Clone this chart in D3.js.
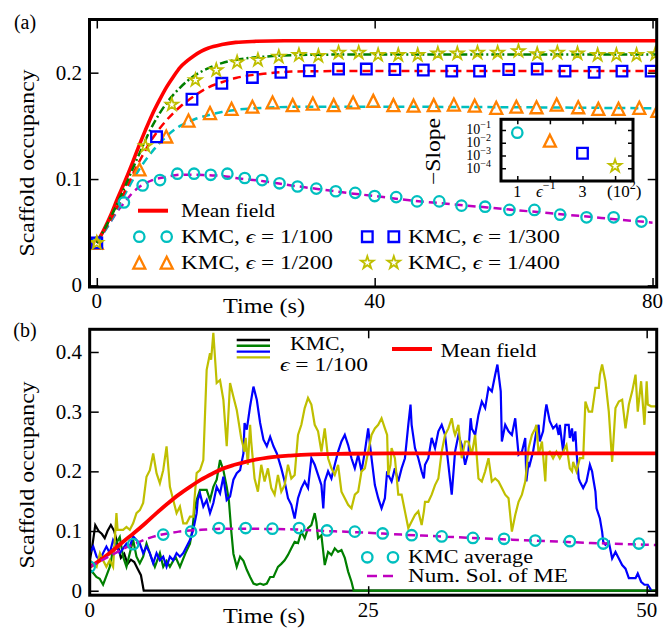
<!DOCTYPE html>
<html><head><meta charset="utf-8">
<script src="https://cdn.jsdelivr.net/npm/d3@7"></script>
</head><body style="margin:0;background:#fff">
<svg id="c" width="671" height="628" font-family="Liberation Serif"></svg>
<script>
// ---------------- DATA ----------------
// Panel (a): KMC markers, [time (s), occupancy]
const kmc100 = [[0,0.040],[3.9,0.078],[6.6,0.094],[9.1,0.099],[11.6,0.105],[14.0,0.105],[16.4,0.104],[18.8,0.105],[21.3,0.101],[23.8,0.099],[26.3,0.096],[28.9,0.093],[31.6,0.091],[34.4,0.0885],[37.2,0.087],[40.0,0.084],[43.1,0.083],[46.1,0.079],[49.3,0.079],[52.5,0.075],[55.9,0.074],[59.4,0.071],[63.0,0.071],[66.7,0.0665],[70.5,0.064],[74.4,0.064],[78.4,0.060]];
const kmc200 = [[0,0.040],[6.15,0.109],[10.0,0.140],[13.2,0.155],[16.3,0.162],[19.4,0.166],[22.4,0.168],[25.3,0.172],[28.2,0.1695],[31.1,0.171],[34.1,0.1695],[36.9,0.172],[39.8,0.1735],[42.7,0.1695],[45.6,0.169],[48.5,0.1695],[51.4,0.170],[54.4,0.169],[57.5,0.167],[60.4,0.168],[63.3,0.1675],[66.2,0.170],[69.3,0.1675],[72.2,0.166],[75.1,0.166],[78.1,0.167],[80.7,0.164]];
const kmc300 = [[0,0.040],[8.6,0.1397],[13.7,0.175],[18.0,0.190],[22.4,0.1955],[26.5,0.2003],[30.6,0.2018],[34.8,0.2034],[38.8,0.2034],[42.9,0.203],[47.0,0.2025],[51.1,0.2015],[55.1,0.2015],[59.3,0.203],[63.4,0.2034],[67.4,0.2015],[71.6,0.2003],[75.6,0.2015],[79.8,0.2015]];
const kmc400 = [[0,0.040],[7.0,0.131],[10.8,0.170],[14.2,0.193],[17.2,0.2024],[20.2,0.2097],[23.2,0.2119],[26.2,0.215],[29.1,0.2166],[31.9,0.2157],[34.8,0.2188],[37.7,0.2188],[40.5,0.2166],[43.4,0.2166],[46.2,0.2166],[49.1,0.218],[51.9,0.218],[54.8,0.2188],[57.7,0.2188],[60.7,0.2203],[63.4,0.2175],[66.3,0.2188],[69.2,0.218],[72.1,0.2166],[74.8,0.2166],[77.7,0.2166],[80.4,0.2175]];
// Numerical solutions of the master equation (dashed curves)
const me100 = [[0,0.040],[1,0.050],[2,0.060],[3,0.070],[4,0.078],[5,0.086],[6,0.092],[7,0.096],[8,0.099],[10,0.102],[12,0.104],[14,0.104],[16,0.1035],[18,0.103],[20,0.101],[24,0.098],[28,0.094],[32,0.0905],[36,0.087],[40,0.084],[45,0.080],[50,0.077],[55,0.074],[60,0.071],[65,0.068],[70,0.065],[75,0.062],[80,0.059]];
const me200 = [[0,0.040],[2,0.060],[4,0.085],[6,0.108],[8,0.126],[10,0.140],[12,0.150],[14,0.156],[16,0.160],[18,0.163],[20,0.165],[24,0.167],[30,0.168],[40,0.168],[60,0.1675],[80.6,0.1665]];
const me300 = [[0,0.040],[2,0.062],[4,0.088],[6,0.115],[8,0.138],[10,0.155],[12,0.168],[14,0.178],[16,0.186],[18,0.191],[20,0.195],[24,0.199],[28,0.201],[35,0.2015],[80.6,0.2015]];
const me400 = [[0,0.040],[2,0.064],[4,0.092],[6,0.122],[8,0.150],[10,0.171],[12,0.186],[14,0.197],[16,0.204],[18,0.209],[20,0.212],[24,0.215],[28,0.2165],[35,0.217],[80.6,0.217]];
const meanField = [[0,0.040],[1,0.052],[2,0.066],[3,0.082],[4,0.097],[5,0.113],[6,0.130],[7,0.146],[8,0.161],[9,0.174],[10,0.186],[11,0.196],[12,0.205],[13,0.211],[14,0.216],[15,0.220],[16,0.223],[18,0.2265],[20,0.2285],[23,0.2295],[27,0.230],[35,0.230],[81,0.230]];
// Inset: epsilon^-1 (x 100) vs -Slope
const insetEps = [1,2,3,4];
const insetSlope = [0.062,0.0145,0.0015,0.00015];
const insetShapes = ["circle","triangle","square","star"];
// Panel (b): individual KMC trajectories, eps = 1/100
const trajBlack = [[0,0.05],[0.2,0.07],[0.5,0.11],[0.8,0.10],[1.1,0.095],[1.35,0.088],[1.6,0.10],[1.9,0.11],[2.2,0.10],[2.5,0.078],[2.8,0.055],[3.1,0.062],[3.4,0.045],[3.7,0.052],[4.0,0.048],[4.3,0.037],[4.6,0.026],[4.85,0],[50.9,0]];
const trajGreen = [[0,0.035],[0.3,0.03],[0.6,0.023],[0.9,0.02],[1.2,0.01],[1.5,0.025],[1.8,0.04],[2.1,0.068],[2.4,0.08],[2.7,0.09],[3.0,0.057],[3.3,0.04],[3.6,0.063],[3.9,0.085],[4.2,0.057],[4.5,0.046],[4.8,0.057],[5.1,0.079],[5.5,0.057],[5.85,0.04],[6.3,0.063],[6.6,0.04],[6.9,0.05],[7.2,0.04],[7.7,0.057],[8.1,0.04],[8.6,0.063],[9.0,0.079],[9.2,0.10],[9.4,0.135],[9.6,0.152],[9.9,0.169],[10.5,0.169],[10.8,0.152],[11.1,0.174],[11.4,0.186],[11.7,0.219],[12.0,0.202],[12.3,0.174],[12.5,0.15],[12.7,0.102],[12.9,0.062],[13.2,0.04],[13.5,0.057],[13.8,0.05],[14.1,0.035],[14.4,0.023],[14.7,0.012],[15.0,0.01],[15.3,0.012],[15.6,0.01],[15.9,0.012],[16.2,0.023],[16.5,0.023],[16.9,0.04],[17.2,0.045],[17.5,0.051],[17.8,0.06],[18.1,0.071],[18.4,0.082],[18.7,0.08],[19.0,0.099],[19.3,0.088],[19.6,0.105],[19.9,0.11],[20.2,0.13],[20.35,0.115],[20.5,0.088],[20.8,0.093],[21.1,0.043],[21.4,0.065],[21.7,0.06],[22.0,0.071],[22.3,0.065],[22.6,0.068],[22.9,0.055],[23.2,0.032],[23.5,0.015],[23.7,0],[50.9,0]];
const trajBlue = [[0,0.063],[0.32,0.074],[0.62,0.057],[0.92,0.051],[1.2,0.063],[1.5,0.074],[1.8,0.063],[2.1,0.085],[2.4,0.074],[2.7,0.063],[3.3,0.079],[3.6,0.074],[3.9,0.091],[4.2,0.085],[4.5,0.079],[4.8,0.063],[5.1,0.074],[5.4,0.063],[5.7,0.046],[6.0,0.063],[6.3,0.051],[6.6,0.057],[6.9,0.040],[7.2,0.057],[7.5,0.051],[7.8,0.063],[8.1,0.057],[8.4,0.063],[8.7,0.074],[9.0,0.085],[9.3,0.102],[9.6,0.130],[9.7,0.152],[9.9,0.163],[10.2,0.141],[10.5,0.152],[10.8,0.130],[11.1,0.147],[11.4,0.174],[11.7,0.163],[12.0,0.191],[12.3,0.152],[12.6,0.158],[12.9,0.186],[13.2,0.197],[13.5,0.202],[13.8,0.230],[13.9,0.281],[14.1,0.270],[14.4,0.309],[14.7,0.342],[15.0,0.320],[15.3,0.281],[15.6,0.253],[15.9,0.242],[16.2,0.258],[16.5,0.242],[16.8,0.230],[17.2,0.205],[17.5,0.183],[17.8,0.155],[18.1,0.144],[18.4,0.121],[18.7,0.155],[19.0,0.172],[19.3,0.183],[19.6,0.172],[19.9,0.222],[20.2,0.211],[20.5,0.194],[20.8,0.177],[20.97,0.138],[21.1,0.183],[21.4,0.200],[21.7,0.188],[22.0,0.211],[22.3,0.233],[22.6,0.250],[22.9,0.261],[23.2,0.244],[23.5,0.222],[23.8,0.205],[24.1,0.228],[24.4,0.200],[24.7,0.233],[25.0,0.272],[25.3,0.222],[25.6,0.177],[25.9,0.155],[26.2,0.138],[26.5,0.155],[26.7,0.200],[26.8,0.194],[27.1,0.183],[27.4,0.205],[27.7,0.183],[28.0,0.205],[28.3,0.222],[28.6,0.278],[28.8,0.312],[28.9,0.278],[29.2,0.239],[29.5,0.222],[29.8,0.200],[30.0,0.188],[30.1,0.211],[30.4,0.222],[30.7,0.256],[31.0,0.239],[31.3,0.267],[31.6,0.278],[31.9,0.261],[32.2,0.211],[32.5,0.161],[32.8,0.233],[33.1,0.261],[33.4,0.244],[33.7,0.211],[34.0,0.233],[34.2,0.289],[34.3,0.272],[34.6,0.261],[34.9,0.295],[35.2,0.317],[35.5,0.306],[35.8,0.340],[36.1,0.334],[36.4,0.362],[36.6,0.379],[36.9,0.334],[37.0,0.250],[37.3,0.278],[37.6,0.267],[37.9,0.261],[38.2,0.289],[38.5,0.228],[38.8,0.233],[39.1,0.256],[39.2,0.183],[39.4,0.216],[39.5,0.211],[39.8,0.233],[40.1,0.267],[40.3,0.278],[40.4,0.250],[40.7,0.267],[40.9,0.300],[41.0,0.312],[41.3,0.284],[41.6,0.272],[41.9,0.278],[42.1,0.261],[42.2,0.278],[42.5,0.233],[42.7,0.278],[43.0,0.278],[43.1,0.256],[43.3,0.272],[43.4,0.250],[43.6,0.267],[43.7,0.233],[43.9,0.188],[44.0,0.183],[44.3,0.172],[44.6,0.183],[44.9,0.211],[45.1,0.200],[45.2,0.188],[45.4,0.166],[45.5,0.138],[45.8,0.121],[46.0,0.099],[46.1,0.082],[46.3,0.077],[46.6,0.082],[46.9,0.054],[47.2,0.065],[47.5,0.054],[47.8,0.043],[48.1,0.037],[48.4,0.021],[48.7,0.021],[49.0,0.021],[49.2,0.029],[49.5,0.015],[49.8,0.010],[50.1,0.010],[50.4,0.001]];
const trajYellow = [[0,0.051],[0.32,0.046],[0.62,0.040],[0.92,0.063],[1.2,0.051],[1.5,0.040],[1.8,0.051],[2.1,0.040],[2.4,0.130],[2.5,0.102],[2.7,0.102],[3.0,0.102],[3.3,0.107],[3.6,0.102],[3.9,0.113],[4.2,0.130],[4.5,0.135],[4.8,0.147],[5.1,0.191],[5.4,0.202],[5.7,0.230],[6.0,0.197],[6.3,0.180],[6.6,0.202],[6.9,0.242],[7.2,0.174],[7.5,0.152],[7.8,0.130],[8.1,0.141],[8.4,0.113],[8.7,0.113],[9.0,0.124],[9.3,0.124],[9.4,0.152],[9.6,0.197],[9.9,0.202],[10.2,0.219],[10.5,0.370],[10.8,0.398],[10.9,0.387],[11.1,0.432],[11.4,0.348],[11.7,0.353],[12.0,0.320],[12.3,0.242],[12.6,0.348],[12.9,0.325],[13.2,0.303],[13.6,0.256],[13.9,0.233],[14.0,0.256],[14.2,0.211],[14.4,0.278],[14.5,0.250],[14.8,0.188],[15.1,0.166],[15.4,0.211],[15.7,0.183],[16.0,0.205],[16.3,0.172],[16.6,0.161],[16.9,0.194],[17.2,0.166],[17.5,0.177],[17.8,0.211],[18.1,0.188],[18.4,0.194],[18.7,0.261],[19.0,0.278],[19.3,0.306],[19.6,0.323],[19.9,0.312],[20.2,0.278],[20.5,0.267],[20.8,0.233],[21.1,0.272],[21.4,0.222],[21.7,0.205],[22.0,0.194],[22.3,0.211],[22.6,0.166],[22.9,0.155],[23.2,0.144],[23.5,0.138],[23.8,0.161],[24.1,0.166],[24.4,0.200],[24.7,0.205],[25.0,0.233],[25.3,0.261],[25.6,0.272],[25.9,0.278],[26.2,0.289],[26.5,0.272],[26.7,0.261],[26.8,0.194],[27.0,0.211],[27.1,0.239],[27.4,0.222],[27.7,0.161],[28.0,0.161],[28.3,0.133],[28.6,0.105],[28.9,0.116],[29.2,0.127],[29.5,0.133],[29.8,0.110],[30.0,0.133],[30.1,0.149],[30.4,0.149],[30.7,0.161],[31.0,0.177],[31.3,0.188],[31.6,0.233],[31.9,0.261],[32.2,0.272],[32.5,0.289],[32.7,0.267],[32.8,0.261],[33.1,0.278],[33.4,0.222],[33.7,0.250],[34.0,0.250],[34.3,0.228],[34.6,0.261],[34.9,0.188],[35.2,0.183],[35.5,0.200],[35.8,0.222],[36.1,0.183],[36.4,0.188],[36.7,0.183],[37.0,0.172],[37.3,0.161],[37.6,0.155],[37.9,0.099],[38.2,0.127],[38.5,0.149],[38.8,0.161],[39.1,0.183],[39.4,0.239],[39.7,0.261],[40.0,0.272],[40.1,0.278],[40.3,0.228],[40.6,0.250],[40.9,0.183],[41.0,0.228],[41.3,0.233],[41.6,0.222],[41.9,0.233],[42.2,0.222],[42.5,0.233],[42.8,0.244],[43.1,0.205],[43.3,0.200],[43.4,0.216],[43.7,0.200],[44.0,0.222],[44.3,0.222],[44.5,0.317],[44.8,0.300],[45.1,0.300],[45.4,0.340],[45.7,0.340],[45.8,0.362],[46.0,0.379],[46.3,0.351],[46.6,0.300],[46.9,0.216],[47.2,0.306],[47.5,0.317],[47.8,0.320],[48.1,0.272],[48.4,0.312],[48.7,0.334],[49.0,0.362],[49.2,0.300],[49.5,0.351],[49.8,0.278],[50.0,0.351],[50.1,0.312],[50.4,0.309],[50.9,0.309]];
// Tick values and labels
const aXTicks = [0,40,80], aYTicks = [0,0.1,0.2];
const bXTicks = [0,25,50], bYTicks = [0,0.1,0.2,0.3,0.4];
const insetYTicks = [1e-1,1e-2,1e-3,1e-4], insetYExp = ["\u22121","\u22122","\u22123","\u22124"];

// ---------------- STYLE ----------------
const FONT = "Liberation Serif";
const C = {red:"#ff0000", cyan:"#00bfbf", mag:"#bf00bf", orange:"#ff8000", blue:"#0000ff", yel:"#bfbf00", green:"#007f00", black:"#000"};
const svg = d3.select("#c");
const fmtY = d => d===0 ? "0" : d3.format(".1f")(d);

function starPath(R){const r=R*0.381966;const p=[];for(let i=0;i<10;i++){const a=-Math.PI/2+i*Math.PI/5;const rr=i%2?r:R;p.push([(rr*Math.cos(a)).toFixed(2),(rr*Math.sin(a)).toFixed(2)]);}return "M"+p.join("L")+"Z";}
const shapePath = {
  circle: "M5.2,0A5.2,5.2 0 1,1 -5.2,0A5.2,5.2 0 1,1 5.2,0Z",
  square: "M-5.3,-5.3H5.3V5.3H-5.3Z",
  triangle: "M0,-6L6,6L-6,6Z",
  star: starPath(6.6)
};
const shapeColor = {circle:C.cyan, triangle:C.orange, square:C.blue, star:C.yel};
function marker(g, px, py, shape){
  g.append("path").attr("d",shapePath[shape]).attr("transform",`translate(${px},${py})`)
   .attr("fill","none").attr("stroke",shapeColor[shape]).attr("stroke-width",shape==="star"?1.8:2.3);
}
function txt(g,x,y,s,size,opt={}){
  const t=g.append("text").attr("x",x).attr("y",y).attr("font-size",size).attr("font-family",FONT).attr("fill","#000");
  if(opt.anchor) t.attr("text-anchor",opt.anchor);
  if(opt.len) t.attr("textLength",opt.len).attr("lengthAdjust","spacingAndGlyphs");
  if(opt.rot) t.attr("transform",`rotate(${opt.rot},${x},${y})`);
  t.text(s); return t;
}
function epsText(g,x,y,pre,post,size,opt={}){
  const t=g.append("text").attr("x",x).attr("y",y).attr("font-size",size).attr("font-family",FONT).attr("fill","#000");
  if(opt.anchor) t.attr("text-anchor",opt.anchor);
  if(opt.len) t.attr("textLength",opt.len).attr("lengthAdjust","spacingAndGlyphs");
  t.append("tspan").text(pre);
  t.append("tspan").attr("font-style","italic").text("\u03f5");
  t.append("tspan").text(post);
  return t;
}
function frameAndTicks(g,x,y,xt,yt,tl){
  const [x0,x1]=x.range(), [y0,y1]=y.range();
  g.append("g").attr("transform",`translate(0,${y0})`).call(d3.axisBottom(x).tickValues(xt).tickSize(-tl).tickFormat(""));
  g.append("g").attr("transform",`translate(0,${y1})`).call(d3.axisTop(x).tickValues(xt).tickSize(-tl).tickFormat(""));
  g.append("g").attr("transform",`translate(${x0},0)`).call(d3.axisLeft(y).tickValues(yt).tickSize(-tl).tickFormat(""));
  g.append("g").attr("transform",`translate(${x1},0)`).call(d3.axisRight(y).tickValues(yt).tickSize(-tl).tickFormat(""));
  g.selectAll(".domain").remove();
  g.selectAll(".tick line").attr("stroke","#000").attr("stroke-width",1.5);
  g.append("rect").attr("x",x0).attr("y",y1).attr("width",x1-x0).attr("height",y0-y1)
   .attr("fill","none").attr("stroke","#000").attr("stroke-width",3);
}

// ---------------- PANEL (a) ----------------
const xa = d3.scaleLinear().domain([-1.05,80.6]).range([89.5,656.7]);
const ya = d3.scaleLinear().domain([-0.0015,0.25]).range([287,19.5]);
svg.append("clipPath").attr("id","clipA").append("rect").attr("x",89.5).attr("y",19.5).attr("width",656.7-89.5).attr("height",287-19.5);
const gA = svg.append("g");
const pA = gA.append("g").attr("clip-path","url(#clipA)");
const lineA = d3.line().x(d=>xa(d[0])).y(d=>ya(d[1])).curve(d3.curveMonotoneX);
pA.append("path").attr("d",lineA(meanField)).attr("fill","none").attr("stroke",C.red).attr("stroke-width",3.6);
pA.append("path").attr("d",lineA(me100)).attr("fill","none").attr("stroke",C.mag).attr("stroke-width",2.5).attr("stroke-dasharray","8,5");
pA.append("path").attr("d",lineA(me200)).attr("fill","none").attr("stroke",C.cyan).attr("stroke-width",2.5).attr("stroke-dasharray","8,5");
pA.append("path").attr("d",lineA(me300)).attr("fill","none").attr("stroke",C.red).attr("stroke-width",2.5).attr("stroke-dasharray","8,5");
pA.append("path").attr("d",lineA(me400)).attr("fill","none").attr("stroke",C.green).attr("stroke-width",2.5).attr("stroke-dasharray","8,3,2,3");
kmc100.forEach(d=>marker(pA,xa(d[0]),ya(d[1]),"circle"));
kmc200.forEach(d=>marker(pA,xa(d[0]),ya(d[1]),"triangle"));
kmc300.forEach(d=>marker(pA,xa(d[0]),ya(d[1]),"square"));
kmc400.forEach(d=>marker(pA,xa(d[0]),ya(d[1]),"star"));
frameAndTicks(gA,xa,ya,aXTicks,aYTicks,9);
aXTicks.forEach(v=>txt(gA,xa(v),307.5,String(v),21,{anchor:"middle"}));
aYTicks.forEach(v=>txt(gA,82,ya(v)+7,fmtY(v),21,{anchor:"end"}));
txt(gA,264,313,"Time (s)",21,{anchor:"middle",len:82});
txt(gA,34,163,"Scaffold occupancy",21,{anchor:"middle",len:187,rot:-90});
txt(gA,25,29,"(a)",20,{anchor:"middle"});
// legend (a)
gA.append("line").attr("x1",138).attr("x2",168).attr("y1",210.7).attr("y2",210.7).attr("stroke",C.red).attr("stroke-width",4);
txt(gA,181,216.5,"Mean field",19.5,{len:94});
[[139.3,236.7,"circle"],[166.7,236.7,"circle"],[139.3,262.7,"triangle"],[166.7,262.7,"triangle"],
 [367.3,236.7,"square"],[393.8,236.7,"square"],[367.3,262.7,"star"],[393.8,262.7,"star"]].forEach(m=>marker(gA,m[0],m[1],m[2]));
epsText(gA,181,243,"KMC, "," = 1/100",19.5,{len:152});
epsText(gA,181,269,"KMC, "," = 1/200",19.5,{len:152});
epsText(gA,408,243,"KMC, "," = 1/300",19.5,{len:152});
epsText(gA,408,269,"KMC, "," = 1/400",19.5,{len:152});

// inset
const xi = d3.scaleLinear().domain([0.5,4.55]).range([501,633]);
const yi = d3.scaleLog().domain([1e-5,0.69]).range([181,119.3]);
const gI = svg.append("g");
gI.append("rect").attr("x",501).attr("y",119.3).attr("width",132).attr("height",61.7).attr("fill","#fff");
insetEps.forEach((e,i)=>marker(gI,xi(e),yi(insetSlope[i]),insetShapes[i]));
frameAndTicks(gI,xi,yi,insetEps,insetYTicks,5);
insetYTicks.forEach((v,i)=>{
  const t=gI.append("text").attr("x",491).attr("y",yi(v)+4.5).attr("font-size",14).attr("font-family",FONT).attr("text-anchor","end");
  t.append("tspan").text("10");
  t.append("tspan").attr("dy",-6).attr("font-size",10).text(insetYExp[i]);
});
txt(gI,xi(1),197,"1",16,{anchor:"middle"});
txt(gI,xi(3),197,"3",16,{anchor:"middle"});
{const t=gI.append("text").attr("x",536).attr("y",197).attr("font-size",17).attr("font-family",FONT);
 t.append("tspan").attr("font-style","italic").text("\u03f5");
 t.append("tspan").attr("dy",-8).attr("font-size",12).text("\u22121");}
{const t=gI.append("text").attr("x",607).attr("y",197).attr("font-size",17).attr("font-family",FONT);
 t.append("tspan").text("(10");
 t.append("tspan").attr("dy",-8).attr("font-size",12).text("2");
 t.append("tspan").attr("dy",8).text(")");}
txt(gI,440,151.5,"\u2212Slope",20,{anchor:"middle",len:67,rot:-90});

// ---------------- PANEL (b) ----------------
const xb = d3.scaleLinear().domain([0,50.9]).range([89.7,656.7]);
const yb = d3.scaleLinear().domain([-0.0075,0.438]).range([595.2,329.3]);
svg.append("clipPath").attr("id","clipB").append("rect").attr("x",89.7).attr("y",329.3).attr("width",656.7-89.7).attr("height",595.2-329.3);
const gB = svg.append("g");
const pB = gB.append("g").attr("clip-path","url(#clipB)");
const lineB = d3.line().x(d=>xb(d[0])).y(d=>yb(d[1]));
const smoothB = d3.line().x(d=>xb(d[0])).y(d=>yb(d[1])).curve(d3.curveMonotoneX);
[[trajBlack,C.black],[trajGreen,C.green],[trajBlue,C.blue],[trajYellow,C.yel]].forEach(([d,c])=>
  pB.append("path").attr("d",lineB(d)).attr("fill","none").attr("stroke",c).attr("stroke-width",2.2).attr("stroke-linejoin","miter"));
pB.append("path").attr("d",smoothB(meanField)).attr("fill","none").attr("stroke",C.red).attr("stroke-width",3.8);
pB.append("path").attr("d",smoothB(me100)).attr("fill","none").attr("stroke",C.mag).attr("stroke-width",2.5).attr("stroke-dasharray","8,5");
kmc100.forEach(d=>marker(pB,xb(d[0]),yb(d[1]),"circle"));
frameAndTicks(gB,xb,yb,bXTicks,bYTicks,9);
bXTicks.forEach(v=>txt(gB,xb(v),617,String(v),21,{anchor:"middle"}));
bYTicks.forEach(v=>txt(gB,82,yb(v)+7,fmtY(v),21,{anchor:"end"}));
txt(gB,264,623,"Time (s)",21,{anchor:"middle",len:82});
txt(gB,34,475,"Scaffold occupancy",21,{anchor:"middle",len:187,rot:-90});
txt(gB,25,337,"(b)",20,{anchor:"middle"});
// legend (b)
[[340,C.black],[345.8,C.green],[351.6,C.blue],[357.4,C.yel]].forEach(([yy,c])=>
  gB.append("line").attr("x1",236.7).attr("x2",270).attr("y1",yy).attr("y2",yy).attr("stroke",c).attr("stroke-width",2.4));
txt(gB,317.5,349.5,"KMC,",19.5,{anchor:"middle",len:55});
epsText(gB,324,371,""," = 1/100",19.5,{anchor:"middle",len:88});
gB.append("line").attr("x1",392).attr("x2",432).attr("y1",349).attr("y2",349).attr("stroke",C.red).attr("stroke-width",4);
txt(gB,440.5,356.5,"Mean field",19.5,{len:96});
marker(gB,367.3,557.3,"circle"); marker(gB,393,557.3,"circle");
txt(gB,408,563,"KMC average",19.5,{len:125});
gB.append("line").attr("x1",367).attr("x2",393).attr("y1",576).attr("y2",576).attr("stroke",C.mag).attr("stroke-width",2.5).attr("stroke-dasharray","10,6");
txt(gB,408,582,"Num. Sol. of ME",19.5,{len:160});
</script></body></html>
